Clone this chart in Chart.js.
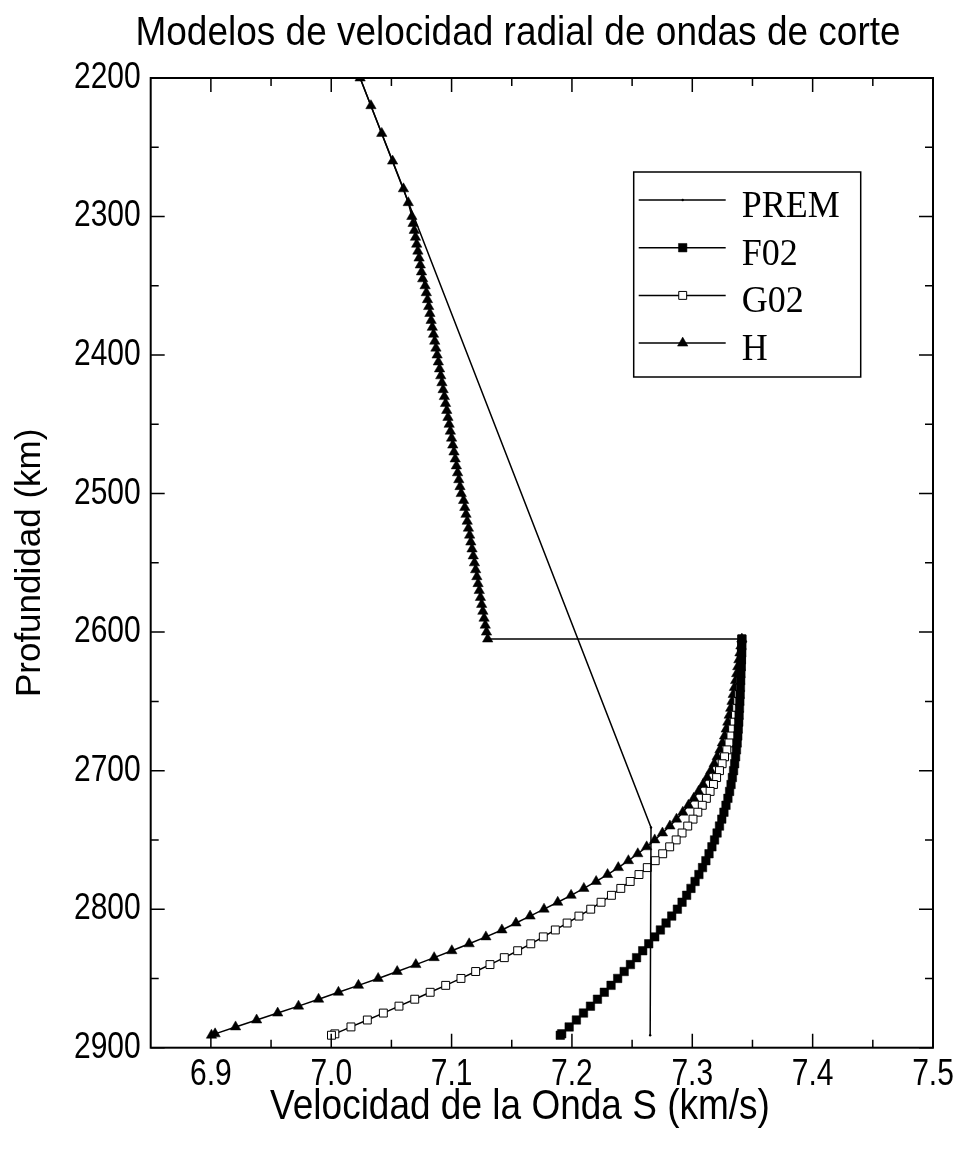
<!DOCTYPE html>
<html lang="es">
<head>
<meta charset="utf-8">
<title>Modelos de velocidad radial de ondas de corte</title>
<script src="https://cdn.jsdelivr.net/npm/chart.js@4.4.1/dist/chart.umd.min.js"></script>
<style>
  html, body { margin: 0; padding: 0; background: #fff; }
  #wrap { width: 961px; height: 1159px; }
</style>
</head>
<body>
<div id="wrap"><canvas id="vsChart" width="961" height="1159"></canvas></div>
<script>
'use strict';

/* ejes */
const xTicks = [6.9, 7.0, 7.1, 7.2, 7.3, 7.4, 7.5];
const xMinorTicks = [6.95, 7.05, 7.15, 7.25, 7.35, 7.45];
const yTicks = [2200, 2300, 2400, 2500, 2600, 2700, 2800, 2900];
const yMinorTicks = [2250, 2350, 2450, 2550, 2650, 2750, 2850];

/* PREM */
const premDepth = [2200, 2741, 2891];
const premVs = [7.024, 7.2657, 7.2650];

/* H por encima de D'' */
const hUpperDepth = [2200, 2220, 2240, 2260, 2280, 2290,
  2300, 2305, 2310, 2315, 2320, 2325, 2330, 2335, 2340, 2345,
  2350, 2355, 2360, 2365, 2370, 2375, 2380, 2385, 2390, 2395,
  2400, 2405, 2410, 2415, 2420, 2425, 2430, 2435, 2440, 2445,
  2450, 2455, 2460, 2465, 2470, 2475, 2480, 2485, 2490, 2495,
  2500, 2505, 2510, 2515, 2520, 2525, 2530, 2535, 2540, 2545,
  2550, 2555, 2560, 2565, 2570, 2575, 2580, 2585, 2590, 2595,
  2600, 2605];
const hUpperVs = [7.024, 7.033, 7.042, 7.051, 7.060, 7.064,
  7.067, 7.068, 7.069, 7.070, 7.071, 7.072, 7.073, 7.074, 7.075, 7.076,
  7.078, 7.079, 7.080, 7.081, 7.082, 7.083, 7.084, 7.085, 7.086, 7.087,
  7.088, 7.089, 7.090, 7.091, 7.092, 7.093, 7.094, 7.095, 7.096, 7.097,
  7.098, 7.099, 7.100, 7.101, 7.102, 7.103, 7.104, 7.105, 7.106, 7.107,
  7.108, 7.110, 7.111, 7.112, 7.113, 7.114, 7.115, 7.116, 7.117, 7.118,
  7.119, 7.120, 7.121, 7.122, 7.123, 7.124, 7.125, 7.126, 7.127, 7.128,
  7.129, 7.130];

/* capa D'' */
const dppDepth = [2605, 2610, 2615, 2620, 2625, 2630, 2635, 2640, 2645, 2650,
  2655, 2660, 2665, 2670, 2675, 2680, 2685, 2690, 2695, 2700,
  2705, 2710, 2715, 2720, 2725, 2730, 2735, 2740, 2745, 2750,
  2755, 2760, 2765, 2770, 2775, 2780, 2785, 2790, 2795, 2800,
  2805, 2810, 2815, 2820, 2825, 2830, 2835, 2840, 2845, 2850,
  2855, 2860, 2865, 2870, 2875, 2880, 2885, 2890, 2891];
const f02Vs = [7.3412, 7.3411, 7.3410, 7.3408, 7.3406, 7.3404, 7.3402, 7.3400, 7.3398, 7.3395,
  7.3392, 7.3389, 7.3386, 7.3382, 7.3378, 7.3373, 7.3367, 7.3360, 7.3352, 7.3343,
  7.3333, 7.3322, 7.3310, 7.3296, 7.3280, 7.3263, 7.3245, 7.3226, 7.3206, 7.3185,
  7.3163, 7.3139, 7.3113, 7.3085, 7.3055, 7.3023, 7.2989, 7.2953, 7.2915, 7.2876,
  7.2829, 7.2782, 7.2735, 7.2688, 7.2638, 7.2588, 7.2537, 7.2486, 7.2434, 7.2380,
  7.2325, 7.2269, 7.2212, 7.2154, 7.2096, 7.2037, 7.1977, 7.1915, 7.1903];
const g02Vs = [7.3412, 7.3411, 7.3410, 7.3408, 7.3405, 7.3401, 7.3397, 7.3392, 7.3386, 7.3378,
  7.3369, 7.3359, 7.3348, 7.3335, 7.3321, 7.3305, 7.3287, 7.3268, 7.3248, 7.3226,
  7.3202, 7.3176, 7.3148, 7.3117, 7.3083, 7.3046, 7.3006, 7.2962, 7.2915, 7.2866,
  7.2812, 7.2754, 7.2692, 7.2626, 7.2557, 7.2484, 7.2406, 7.2328, 7.2242, 7.2156,
  7.2058, 7.1960, 7.1862, 7.1762, 7.1658, 7.1549, 7.1438, 7.1319, 7.1200, 7.1078,
  7.0951, 7.0822, 7.0694, 7.0563, 7.0433, 7.0300, 7.0164, 7.0030, 7.0002];
const hLowerVs = [7.3412, 7.3404, 7.3396, 7.3387, 7.3378, 7.3369, 7.3360, 7.3350, 7.3340, 7.3330,
  7.3319, 7.3307, 7.3295, 7.3282, 7.3268, 7.3250, 7.3230, 7.3207, 7.3182, 7.3154,
  7.3123, 7.3089, 7.3052, 7.3012, 7.2968, 7.2921, 7.2869, 7.2814, 7.2752, 7.2688,
  7.2621, 7.2547, 7.2469, 7.2385, 7.2296, 7.2201, 7.2099, 7.1993, 7.1882, 7.1768,
  7.1652, 7.1535, 7.1418, 7.1285, 7.1146, 7.1002, 7.0855, 7.0703, 7.0548, 7.0390,
  7.0226, 7.0060, 6.9895, 6.9728, 6.9555, 6.9380, 6.9205, 6.9035, 6.9005];

const sansFamily = '"Liberation Sans", Arial, Helvetica, sans-serif';
const serifFamily = '"Liberation Serif", "Times New Roman", serif';

function toPoints(vs, depths) {
  return depths.map((d, i) => ({ x: vs[i], y: d }));
}

function seriesStyle(label, pointStyle, radius, fill, borderW) {
  return {
    label,
    showLine: true,
    borderColor: '#000',
    borderWidth: 1.5,
    pointStyle,
    pointRadius: radius,
    pointHoverRadius: radius,
    pointBackgroundColor: fill,
    pointBorderColor: '#000',
    pointBorderWidth: borderW,
    tension: 0,
  };
}

// texto algo estirado en vertical, como en la figura original
function tallText(ctx, str, x, y, k) {
  ctx.save();
  ctx.translate(x, y);
  ctx.scale(1, k);
  ctx.fillText(str, 0, 0);
  ctx.restore();
}

// titulo, titulo del eje x y etiquetas de las marcas
const chartTexts = {
  id: 'chartTexts',
  afterDraw(chart) {
    const { ctx, chartArea: a, scales: { x, y } } = chart;
    ctx.save();
    ctx.fillStyle = '#000';
    ctx.textAlign = 'center';
    ctx.textBaseline = 'middle';
    ctx.font = '37px ' + sansFamily;
    tallText(ctx, 'Modelos de velocidad radial de ondas de corte', 518, 34, 1.08);
    tallText(ctx, 'Velocidad de la Onda S (km/s)', 520, 1107, 1.15);

    ctx.font = '30px ' + sansFamily;
    x.ticks.forEach((t) => {
      tallText(ctx, Number(t.value).toFixed(1), x.getPixelForValue(t.value), a.bottom + 27, 1.2);
    });
    ctx.textAlign = 'right';
    y.ticks.forEach((t) => {
      tallText(ctx, String(t.value), a.left - 10, y.getPixelForValue(t.value), 1.2);
    });
    ctx.restore();
  },
};

// marco y marcas hacia dentro en los cuatro lados
const frameTicks = {
  id: 'frameTicks',
  afterDatasetsDraw(chart) {
    const { ctx, chartArea: a, scales: { x, y } } = chart;
    ctx.save();
    ctx.strokeStyle = '#000';
    ctx.lineWidth = 1.5;
    ctx.beginPath();
    const xMark = (v, len) => {
      const px = x.getPixelForValue(v);
      ctx.moveTo(px, a.bottom); ctx.lineTo(px, a.bottom - len);
      ctx.moveTo(px, a.top); ctx.lineTo(px, a.top + len);
    };
    const yMark = (v, len) => {
      const py = y.getPixelForValue(v);
      ctx.moveTo(a.left, py); ctx.lineTo(a.left + len, py);
      ctx.moveTo(a.right, py); ctx.lineTo(a.right - len, py);
    };
    xTicks.forEach((v) => xMark(v, 14));
    xMinorTicks.forEach((v) => xMark(v, 8));
    yTicks.forEach((v) => yMark(v, 14));
    yMinorTicks.forEach((v) => yMark(v, 8));
    ctx.stroke();
    ctx.lineWidth = 2;
    ctx.strokeRect(a.left, a.top, a.right - a.left, a.bottom - a.top);
    ctx.restore();
  },
};

const legendBox = {
  id: 'legendBox',
  afterDraw(chart) {
    const { ctx, chartArea: a } = chart;
    const bx = a.left + 483, by = a.top + 94, bw = 227, bh = 205;
    ctx.save();
    ctx.fillStyle = '#fff';
    ctx.fillRect(bx, by, bw, bh);
    ctx.strokeStyle = '#000';
    ctx.lineWidth = 1.5;
    ctx.strokeRect(bx, by, bw, bh);
    ctx.font = '36px ' + serifFamily;
    ctx.textAlign = 'left';
    ctx.textBaseline = 'alphabetic';
    chart.data.datasets.forEach((ds, i) => {
      const ly = by + 28 + i * 47.7;
      ctx.strokeStyle = '#000';
      ctx.lineWidth = ds.borderWidth;
      ctx.beginPath();
      ctx.moveTo(bx + 5, ly);
      ctx.lineTo(bx + 92, ly);
      ctx.stroke();
      ctx.fillStyle = ds.pointBackgroundColor;
      ctx.strokeStyle = ds.pointBorderColor;
      ctx.lineWidth = ds.pointBorderWidth;
      if (Chart.helpers && Chart.helpers.drawPoint) {
        Chart.helpers.drawPoint(ctx, { pointStyle: ds.pointStyle, radius: ds.pointRadius, rotation: 0, borderWidth: ds.pointBorderWidth }, bx + 49, ly);
      }
      ctx.fillStyle = '#000';
      tallText(ctx, ds.label, bx + 108, ly + 17, 1.05);
    });
    ctx.restore();
  },
};

new Chart(document.getElementById('vsChart'), {
  type: 'scatter',
  data: {
    datasets: [
      Object.assign(seriesStyle('PREM', 'circle', 1.2, '#000', 0), { data: toPoints(premVs, premDepth) }),
      Object.assign(seriesStyle('F02', 'rect', 6, '#000', 0.5), { data: toPoints(f02Vs, dppDepth) }),
      Object.assign(seriesStyle('G02', 'rect', 5.6, '#fff', 1), { data: toPoints(g02Vs, dppDepth) }),
      Object.assign(seriesStyle('H', 'triangle', 6, '#000', 0.5), {
        data: toPoints(hUpperVs, hUpperDepth).concat(toPoints(hLowerVs, dppDepth)),
      }),
    ],
  },
  options: {
    responsive: false,
    animation: false,
    events: [],
    layout: { autoPadding: false, padding: { top: 78, right: 28, bottom: 0, left: 0 } },
    plugins: {
      legend: { display: false },
      tooltip: { enabled: false },
      title: { display: false },
    },
    scales: {
      x: {
        type: 'linear',
        position: 'bottom',
        min: 6.85,
        max: 7.5,
        afterBuildTicks: (s) => { s.ticks = xTicks.map((v) => ({ value: v })); },
        afterFit: (s) => { s.height = 111.3; },
        grid: { display: false, drawTicks: false },
        border: { display: false },
        ticks: { display: false },
      },
      y: {
        type: 'linear',
        position: 'left',
        reverse: true,
        min: 2200,
        max: 2900,
        afterBuildTicks: (s) => { s.ticks = yTicks.map((v) => ({ value: v })); },
        afterFit: (s) => { s.width = 150.7; },
        grid: { display: false, drawTicks: false },
        border: { display: false },
        ticks: { display: false },
        title: {
          display: true,
          text: 'Profundidad (km)',
          color: '#000',
          font: { family: sansFamily, size: 35 },
          padding: { top: 9, bottom: 0 },
        },
      },
    },
  },
  plugins: [frameTicks, legendBox, chartTexts],
});
</script>
</body>
</html>
